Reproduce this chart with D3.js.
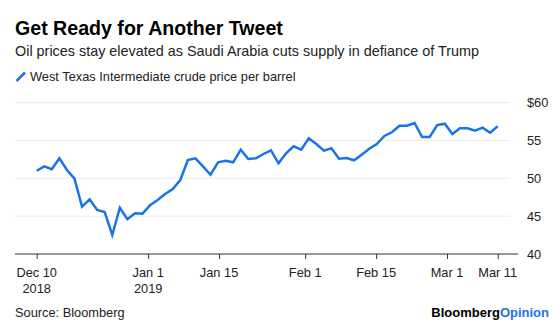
<!DOCTYPE html>
<html>
<head>
<meta charset="utf-8">
<script src="https://cdn.jsdelivr.net/npm/d3@7"></script>
<style>
  body { margin: 0; background: #fff; }
  svg { font-family: "Liberation Sans", Arial, sans-serif; }
</style>
</head>
<body>
<div id="main-frame"></div>
<script>
// WTI daily settlement, trading days only
const dates = [
  "2018-12-10", "2018-12-11", "2018-12-12", "2018-12-13", "2018-12-14",
  "2018-12-17", "2018-12-18", "2018-12-19", "2018-12-20", "2018-12-21",
  "2018-12-24", "2018-12-26", "2018-12-27", "2018-12-28", "2018-12-31",
  "2019-01-02", "2019-01-03", "2019-01-04", "2019-01-07", "2019-01-08",
  "2019-01-09", "2019-01-10", "2019-01-11", "2019-01-14", "2019-01-15",
  "2019-01-16", "2019-01-17", "2019-01-18", "2019-01-22", "2019-01-23",
  "2019-01-24", "2019-01-25", "2019-01-28", "2019-01-29", "2019-01-30",
  "2019-01-31", "2019-02-01", "2019-02-04", "2019-02-05", "2019-02-06",
  "2019-02-07", "2019-02-08", "2019-02-11", "2019-02-12", "2019-02-13",
  "2019-02-14", "2019-02-15", "2019-02-19", "2019-02-20", "2019-02-21",
  "2019-02-22", "2019-02-25", "2019-02-26", "2019-02-27", "2019-02-28",
  "2019-03-01", "2019-03-04", "2019-03-05", "2019-03-06", "2019-03-07",
  "2019-03-08", "2019-03-11"
];
const prices = [
  51.00, 51.59, 51.20, 52.65, 51.10, 49.95, 46.25, 47.23, 45.82, 45.55,
  42.51, 46.12, 44.59, 45.38, 45.33, 46.44, 47.14, 47.93, 48.59, 49.78,
  52.43, 52.65, 51.59, 50.48, 52.12, 52.33, 52.12, 53.79, 52.56, 52.65,
  53.22, 53.71, 51.99, 53.31, 54.24, 53.79, 55.29, 54.54, 53.66, 53.97,
  52.60, 52.69, 52.39, 53.13, 53.92, 54.54, 55.60, 56.09, 56.96, 56.96,
  57.32, 55.47, 55.47, 57.05, 57.22, 55.86, 56.62, 56.62, 56.30, 56.70,
  56.03, 56.88
];
const xTicks = ["2018-12-10", "2019-01-01", "2019-01-15", "2019-02-01", "2019-02-15", "2019-03-01", "2019-03-11"];
const xTickLabels = [["Dec 10", "2018"], ["Jan 1", "2019"], ["Jan 15"], ["Feb 1"], ["Feb 15"], ["Mar 1"], ["Mar 11"]];
const yTicks = [40, 45, 50, 55, 60];

const W = 560, H = 325;
const blue = "#1a74e8";
const parse = d3.timeParse("%Y-%m-%d");

const svg = d3.select("#main-frame")
  .append("svg")
  .attr("width", W)
  .attr("height", H);

// headline block
svg.append("text")
  .attr("x", 15).attr("y", 35)
  .attr("font-size", 19.6).attr("font-weight", "bold")
  .attr("fill", "#000")
  .text("Get Ready for Another Tweet");

svg.append("text")
  .attr("x", 15).attr("y", 56)
  .attr("font-size", 14.4).attr("fill", "#222")
  .text("Oil prices stay elevated as Saudi Arabia cuts supply in defiance of Trump");

svg.append("line")
  .attr("x1", 16.5).attr("y1", 81).attr("x2", 25).attr("y2", 72.5)
  .attr("stroke", blue).attr("stroke-width", 2.5);
svg.append("text")
  .attr("x", 30).attr("y", 81)
  .attr("font-size", 12.8).attr("fill", "#222")
  .text("West Texas Intermediate crude price per barrel");

// plot area
const left = 15, right = 518, x0 = 36.7, x1 = 497.7;
const yScale = d3.scaleLinear().domain([40, 60]).range([254, 102.7]);

// line points are spaced evenly per session, axis ticks follow calendar time
const xPoint = d3.scalePoint().domain(dates).range([x0, x1]);
const xTime = d3.scaleTime()
  .domain([parse(dates[0]), parse(dates[dates.length - 1])])
  .range([x0, x1]);

svg.append("g")
  .selectAll("line")
  .data(yTicks.filter(d => d > 40))
  .enter()
  .append("line")
  .attr("x1", left).attr("x2", 510)
  .attr("y1", d => yScale(d)).attr("y2", d => yScale(d))
  .attr("stroke", "#ececec").attr("stroke-width", 1);

svg.append("g")
  .selectAll("text")
  .data(yTicks)
  .enter()
  .append("text")
  .attr("x", 527)
  .attr("y", d => yScale(d) + 4.5)
  .attr("font-size", 12.8).attr("fill", "#222")
  .text(d => d === 60 ? "$60" : d);

const xAxis = d3.axisBottom(xTime)
  .tickValues(xTicks.map(parse))
  .tickSize(5)
  .tickFormat("");
const gx = svg.append("g")
  .attr("transform", `translate(0, ${yScale(40)})`)
  .call(xAxis);
gx.select(".domain").remove();
gx.selectAll(".tick line").attr("stroke", "#333");
gx.append("line")
  .attr("x1", left).attr("x2", right)
  .attr("stroke", "#333").attr("stroke-width", 1);

svg.append("g")
  .selectAll("text")
  .data(xTicks)
  .enter()
  .append("text")
  .attr("x", d => xTime(parse(d)))
  .attr("y", 277)
  .attr("text-anchor", "middle")
  .attr("font-size", 12.8).attr("fill", "#222")
  .each(function (d, i) {
    xTickLabels[i].forEach((s, k) => {
      d3.select(this).append("tspan")
        .attr("x", xTime(parse(d)))
        .attr("dy", k === 0 ? 0 : 16)
        .text(s);
    });
  });

const line = d3.line()
  .x((d, i) => xPoint(dates[i]))
  .y(d => yScale(d));

svg.append("path")
  .datum(prices)
  .attr("fill", "none")
  .attr("stroke", blue)
  .attr("stroke-width", 2.5)
  .attr("stroke-linejoin", "miter")
  .attr("d", line);

// footer
svg.append("text")
  .attr("x", 15).attr("y", 317)
  .attr("font-size", 12.8).attr("fill", "#222")
  .text("Source: Bloomberg");

const brand = svg.append("text")
  .attr("x", 549).attr("y", 317)
  .attr("text-anchor", "end")
  .attr("font-size", 13).attr("font-weight", "bold");
brand.append("tspan").attr("fill", "#000").text("Bloomberg");
brand.append("tspan").attr("fill", blue).text("Opinion");
</script>
</body>
</html>
